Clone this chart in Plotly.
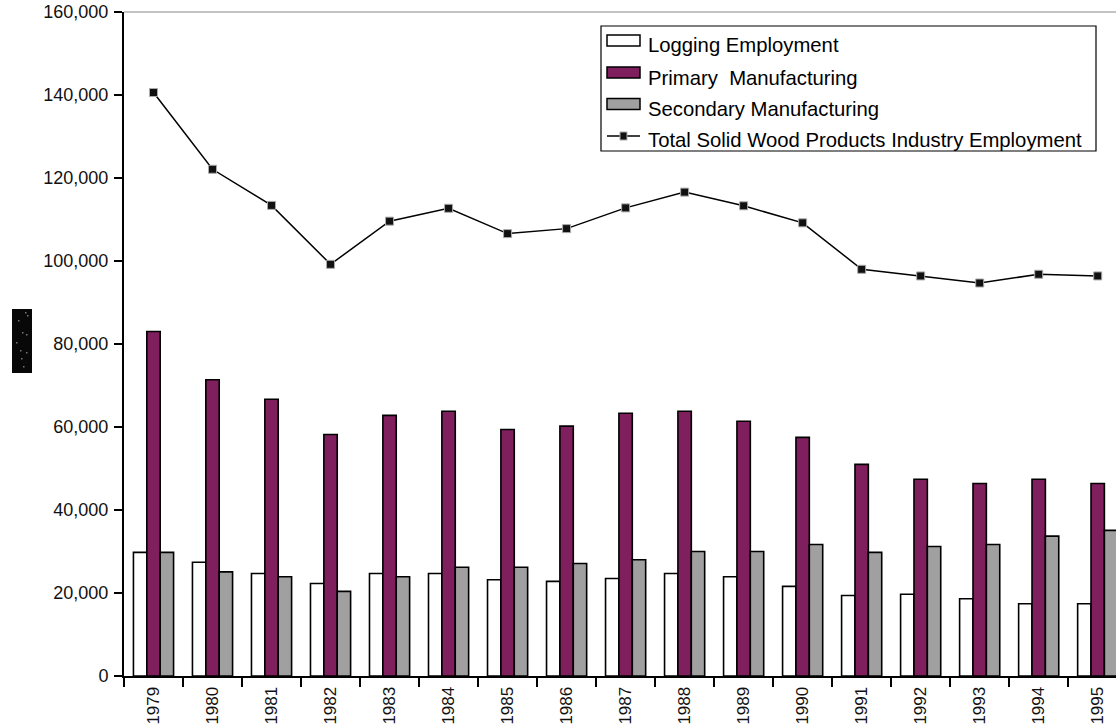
import plotly.graph_objects as go

# Solid wood products industry employment, 1979-1995
years = ["1979", "1980", "1981", "1982", "1983", "1984", "1985", "1986", "1987",
         "1988", "1989", "1990", "1991", "1992", "1993", "1994", "1995"]
logging = [29800, 27400, 24700, 22300, 24700, 24700, 23200, 22800, 23500,
           24700, 23900, 21600, 19400, 19700, 18600, 17400, 17400]
primary = [83000, 71400, 66700, 58200, 62800, 63800, 59400, 60200, 63300,
           63800, 61400, 57500, 51000, 47400, 46400, 47400, 46400]
secondary = [29800, 25100, 23900, 20400, 23900, 26200, 26200, 27100, 28000,
             30000, 30000, 31700, 29800, 31200, 31700, 33700, 35100]
total = [140600, 122100, 113400, 99200, 109600, 112700, 106600, 107800, 112800,
         116600, 113300, 109200, 98000, 96400, 94700, 96800, 96400]
y_ticks = [0, 20000, 40000, 60000, 80000, 100000, 120000, 140000, 160000]

W, H = 1116, 728
ML, MR, MT, MB = 124, 0, 12, 52
FONT = "Arial, Liberation Sans, sans-serif"
PURPLE = "#7f1f5e"
GRAY = "#a0a0a0"


def px_x(px):
    return (px - ML) / (W - ML - MR)


def px_y(py):
    return (H - MB - py) / (H - MT - MB)


fig = go.Figure()
fig.add_trace(go.Bar(x=years, y=logging, name="Logging Employment",
                     marker=dict(color="white", line=dict(color="black", width=1.6))))
fig.add_trace(go.Bar(x=years, y=primary, name="Primary  Manufacturing",
                     marker=dict(color=PURPLE, line=dict(color="black", width=1.6))))
fig.add_trace(go.Bar(x=years, y=secondary, name="Secondary Manufacturing",
                     marker=dict(color=GRAY, line=dict(color="black", width=1.6))))
fig.add_trace(go.Scatter(x=years, y=total, mode="lines+markers",
                         name="Total Solid Wood Products Industry Employment",
                         line=dict(color="black", width=1.5),
                         marker=dict(symbol="square", size=8, color="#111",
                                     line=dict(color="#aaa", width=1))))

shapes = []
annotations = []

# top border of the plot area
shapes.append(dict(type="line", xref="paper", yref="paper", x0=0, x1=1, y0=1, y1=1,
                   line=dict(color="#888", width=1)))

# dark block standing in for the vertical axis title
shapes.append(dict(type="rect", xref="paper", yref="paper",
                   x0=px_x(12), x1=px_x(32), y0=px_y(373), y1=px_y(309),
                   fillcolor="#080808", line=dict(width=0)))
# faint specks inside the block
for sx, sy in [(25, 312), (27, 315), (18, 320), (22, 332), (26, 334), (20, 350),
               (26, 352), (21, 358), (23, 366), (16, 342)]:
    shapes.append(dict(type="rect", xref="paper", yref="paper",
                       x0=px_x(sx), x1=px_x(sx + 1.5), y0=px_y(sy + 1.5), y1=px_y(sy),
                       fillcolor="#777", line=dict(width=0)))

# legend box
shapes.append(dict(type="rect", xref="paper", yref="paper",
                   x0=px_x(601), x1=px_x(1096), y0=px_y(151), y1=px_y(26),
                   fillcolor="white", line=dict(color="black", width=1.2), layer="above"))

legend_items = [
    ("Logging Employment", "white", 40.5, 45.5),
    ("Primary  Manufacturing", PURPLE, 72.5, 77.5),
    ("Secondary Manufacturing", GRAY, 104, 109),
]
for label, col, sym_c, txt_c in legend_items:
    shapes.append(dict(type="rect", xref="paper", yref="paper",
                       x0=px_x(607), x1=px_x(640), y0=px_y(sym_c + 5.5), y1=px_y(sym_c - 5.5),
                       fillcolor=col, line=dict(color="black", width=1.5), layer="above"))
    annotations.append(dict(text=label, xref="paper", yref="paper", x=px_x(646), y=px_y(txt_c),
                            xanchor="left", yanchor="middle", showarrow=False,
                            font=dict(family=FONT, size=20.3, color="black")))

shapes.append(dict(type="line", xref="paper", yref="paper",
                   x0=px_x(607), x1=px_x(640), y0=px_y(136), y1=px_y(136),
                   line=dict(color="black", width=1.5), layer="above"))
shapes.append(dict(type="rect", xref="paper", yref="paper",
                   x0=px_x(620), x1=px_x(627), y0=px_y(140), y1=px_y(132),
                   fillcolor="#111", line=dict(color="#aaa", width=1), layer="above"))
annotations.append(dict(text="Total Solid Wood Products Industry Employment", xref="paper",
                        yref="paper", x=px_x(646), y=px_y(140), xanchor="left",
                        yanchor="middle", showarrow=False,
                        font=dict(family=FONT, size=20.3, color="black")))

fig.update_layout(
    width=W, height=H,
    margin=dict(l=ML, r=MR, t=MT, b=MB, pad=0),
    paper_bgcolor="white", plot_bgcolor="white",
    barmode="group", bargap=0.32, bargroupgap=0,
    showlegend=False,
    font=dict(family=FONT, color="black"),
    shapes=shapes, annotations=annotations,
)
fig.update_xaxes(type="category", range=[-0.5, 16.31], tickson="boundaries",
                 ticks="outside", ticklen=9, tickwidth=1.5, tickcolor="black",
                 showline=True, linecolor="black", linewidth=2, showgrid=False,
                 tickangle=-90, ticklabelstandoff=2,
                 tickfont=dict(family=FONT, size=17, color="#111"))
fig.update_yaxes(range=[0, 160000], tickvals=y_ticks, tickformat=",",
                 ticks="outside", ticklen=8, tickwidth=1.5, tickcolor="black",
                 showline=True, linecolor="black", linewidth=2, showgrid=False,
                 zeroline=False, ticklabelstandoff=2,
                 tickfont=dict(family=FONT, size=18, color="#111"))

fig.write_html("out.html")
